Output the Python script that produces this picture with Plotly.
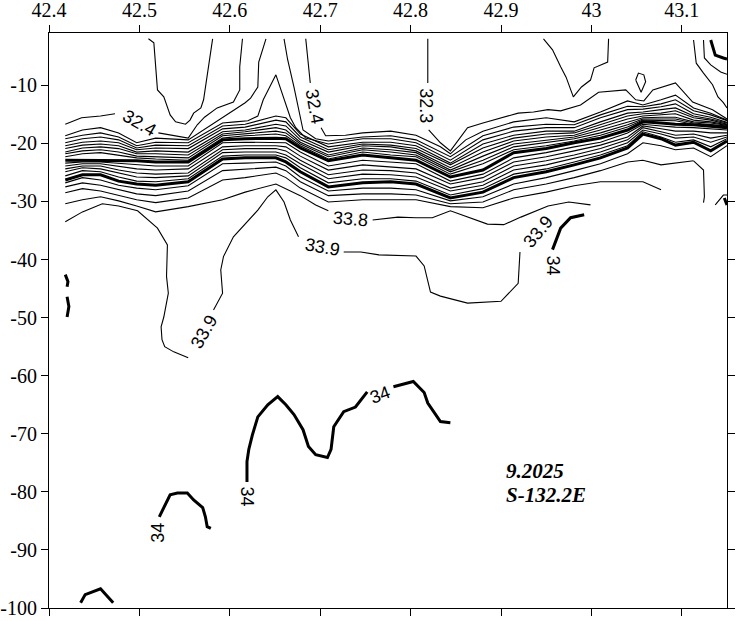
import plotly.graph_objects as go

# station latitudes shared by the dense halocline lines
station_lat = [42.418, 42.437, 42.457, 42.477, 42.497, 42.518, 42.554, 42.592, 42.617, 42.651,
               42.662, 42.678, 42.709, 42.747, 42.778, 42.806, 42.844, 42.880, 42.914, 42.950,
               42.981, 43.010, 43.040, 43.057, 43.077, 43.093, 43.113, 43.132, 43.150]

# depths of thin isohalines above the first thick line
u3 = [-19.9, -19.2, -18.9, -19.4, -20.8, -20.3, -20.4, -17.0, -16.7, -15.3, -15.6, -18.4, -20.6, -19.8, -19.8,
      -20.4, -23.4, -20.1, -18.6, -17.9, -17.9, -16.3, -14.8, -14.6, -14.2, -13.9, -15.3, -15.8, -16.5]
u4 = [-20.4, -19.8, -19.6, -19.9, -21.1, -20.8, -20.9, -17.5, -17.2, -16.0, -16.3, -18.9, -21.1, -20.1, -20.3,
      -20.9, -23.7, -20.8, -19.1, -18.4, -18.2, -16.8, -15.3, -14.9, -14.8, -14.4, -15.6, -16.0, -16.7]
u5 = [-20.9, -20.3, -20.1, -20.4, -21.5, -21.3, -21.5, -18.0, -17.7, -16.7, -17.0, -19.4, -21.5, -20.4, -20.6,
      -21.3, -24.2, -21.5, -19.6, -18.9, -18.6, -17.2, -15.8, -15.3, -15.1, -14.9, -16.0, -16.3, -16.8]
u6 = [-21.5, -20.8, -20.6, -20.9, -21.8, -21.8, -22.0, -18.4, -18.0, -17.3, -17.7, -19.8, -22.0, -20.8, -21.1,
      -21.6, -24.6, -22.2, -20.1, -19.4, -18.9, -17.7, -16.3, -15.6, -15.5, -15.5, -16.3, -16.5, -16.9]
u7 = [-21.8, -21.3, -21.1, -21.5, -22.2, -22.3, -22.5, -18.7, -18.4, -17.9, -18.2, -20.1, -22.3, -21.1, -21.5,
      -22.0, -24.9, -22.9, -20.6, -19.9, -19.2, -18.2, -16.8, -15.8, -15.8, -15.8, -16.5, -16.7, -17.0]
u8 = [-22.3, -21.8, -21.6, -22.0, -22.5, -22.7, -22.9, -19.1, -18.7, -18.4, -18.7, -20.4, -22.7, -21.5, -22.0,
      -22.3, -25.3, -23.5, -21.1, -20.4, -19.6, -18.6, -17.2, -16.0, -16.1, -16.1, -16.7, -16.8, -17.1]
# thick lines
t1 = [-22.9, -22.9, -22.9, -22.9, -23.0, -23.2, -23.2, -19.4, -19.2, -19.1, -19.2, -20.8, -23.0, -22.0, -22.5,
      -22.9, -25.8, -24.6, -21.6, -20.9, -19.9, -19.1, -17.7, -16.3, -16.5, -16.7, -16.8, -17.0, -17.3]
t2 = [-26.3, -25.4, -25.4, -26.5, -27.0, -27.2, -26.6, -22.7, -22.5, -22.5, -23.2, -24.9, -27.5, -26.8, -26.6,
      -27.0, -29.4, -28.4, -25.9, -24.9, -23.7, -22.5, -20.8, -18.4, -19.2, -20.3, -19.8, -21.3, -19.6]
# thin lines between the thick lines
m1 = [-23.4, -23.2, -23.2, -23.4, -23.7, -23.9, -23.9, -19.9, -19.8, -19.8, -19.9, -21.5, -23.9, -22.9, -23.2,
      -23.5, -26.5, -25.3, -22.5, -21.6, -20.6, -19.8, -18.2, -16.7, -17.0, -17.2, -17.3, -17.5, -17.7]
m2 = [-23.9, -23.5, -23.5, -23.9, -24.4, -24.6, -24.4, -20.6, -20.4, -20.4, -20.6, -22.2, -24.6, -23.7, -24.1,
      -24.4, -27.0, -25.9, -23.2, -22.3, -21.3, -20.3, -18.9, -17.0, -17.5, -17.9, -17.9, -18.2, -18.2]
m3 = [-24.4, -23.9, -23.9, -24.6, -25.1, -25.3, -25.1, -21.1, -20.9, -20.9, -21.3, -22.9, -25.4, -24.6, -24.7,
      -25.1, -27.7, -26.6, -23.9, -23.0, -22.0, -20.9, -19.4, -17.3, -18.0, -18.6, -18.4, -19.1, -18.6]
m4 = [-24.9, -24.2, -24.4, -25.1, -25.8, -25.9, -25.6, -21.6, -21.5, -21.5, -22.0, -23.5, -26.1, -25.3, -25.4,
      -25.8, -28.2, -27.2, -24.6, -23.7, -22.5, -21.5, -19.9, -17.7, -18.4, -19.1, -18.9, -19.8, -18.9]
m5 = [-25.6, -24.7, -24.9, -25.8, -26.5, -26.6, -26.1, -22.2, -22.0, -22.0, -22.5, -24.2, -26.8, -26.1, -26.1,
      -26.5, -28.9, -27.8, -25.3, -24.4, -23.2, -22.0, -20.4, -18.0, -18.9, -19.8, -19.4, -20.6, -19.2]
# thin lines below the second thick line
l1 = [-26.8, -25.9, -26.3, -27.2, -27.7, -28.0, -27.3, -23.5, -23.4, -23.2, -23.9, -25.8, -28.2, -27.7, -27.7,
      -28.0, -29.9, -29.2, -27.0, -25.9, -24.7, -23.5, -21.8, -19.9, -20.4, -21.1, -20.8, -22.3, -20.4]
l2 = [-27.5, -26.8, -27.2, -28.0, -28.7, -29.0, -28.2, -24.7, -24.4, -24.1, -24.7, -26.6, -29.0, -28.7, -28.7,
      -28.9, -30.4, -30.1, -28.0, -27.0, -25.9, -24.7, -23.2, -22.9, -23.7, -23.4, -23.0, None, None]
l3 = [-28.5, -27.8, -28.2, -29.0, -29.7, -30.2, -29.4, -26.3, -25.9, -25.1, -25.9, -27.7, -30.1, -29.7, -29.7,
      -29.7, -30.9, -31.1, -29.4, -28.4, -27.3, -26.6, -26.6, -26.6, -28.0, None, None, None, None]
l2_tail_lat = [43.113, 43.124, 43.125, 43.124]
l2_tail_dep = [-23.0, -24.6, -29.2, -30.2]

# plume lines reaching the surface
u1_left_lat = [42.418, 42.437, 42.457, 42.477, 42.497, 42.518, 42.554, 42.592, 42.604, 42.617, 42.623, 42.631, 42.632, 42.640]
u1_left_dep = [-18.7, -17.7, -17.3, -18.2, -19.9, -19.1, -19.4, -15.5, -14.2, -13.0, -12.2, -10.3, -6.0, -2.0]
u1_right_lat = [42.660, 42.664, 42.671, 42.676, 42.681, 42.695, 42.709, 42.747, 42.778, 42.806, 42.844, 42.880,
                42.914, 42.950, 42.981, 43.010, 43.040, 43.057, 43.077, 43.093, 43.113, 43.132, 43.150]
u1_right_dep = [-2.0, -5.6, -10.3, -14.2, -17.7, -19.2, -19.6, -18.9, -18.7, -19.4, -22.3, -18.7,
                -17.2, -16.7, -16.8, -15.1, -13.6, -13.7, -13.2, -12.5, -14.4, -15.1, -16.1]
u2_lat = [42.418, 42.437, 42.457, 42.477, 42.497, 42.518, 42.554, 42.592, 42.606, 42.620, 42.631, 42.637, 42.651,
          42.656, 42.662, 42.667, 42.673, 42.684, 42.709, 42.747, 42.778, 42.806, 42.844, 42.880, 42.914, 42.950,
          42.981, 43.010, 43.040, 43.057, 43.077, 43.093, 43.113, 43.132, 43.150]
u2_dep = [-19.2, -18.6, -18.2, -18.9, -20.4, -19.8, -19.9, -16.5, -16.3, -16.1, -15.3, -12.5, -8.2,
          -10.5, -13.0, -15.6, -17.3, -19.1, -20.1, -19.2, -19.2, -19.9, -22.9, -19.4, -17.9, -17.3,
          -17.3, -15.6, -14.2, -14.1, -13.7, -13.2, -14.9, -15.5, -16.4]

# 32.4 isohaline, left and right parts
s324a_lat = [42.418, 42.436, 42.457, 42.473, None, 42.521, 42.540, 42.554, 42.564, 42.572, 42.586, 42.604, 42.611, 42.611, 42.614]
s324a_dep = [-16.7, -15.6, -15.3, -14.9, None, -18.2, -18.7, -19.1, -16.8, -15.5, -13.9, -12.9, -10.8, -6.8, -2.0]
s324b_lat = [42.684, 42.686, 42.689, None, 42.701, 42.706, 42.728, 42.747, 42.778, 42.806, 42.833, 42.844, 42.861,
             42.880, 42.914, 42.950, 42.981, 43.010, 43.040, 43.057, 43.077, 43.093, 43.113, 43.132, 43.150]
s324b_dep = [-2.0, -5.6, -9.6, None, -17.3, -18.7, -18.6, -18.2, -17.9, -18.6, -20.6, -21.8, -19.4,
             -17.9, -16.3, -15.6, -16.3, -14.6, -12.7, -13.4, -12.5, -11.7, -13.9, -14.8, -16.0]
# 32.3 isohaline and the fresher pockets near the surface
s323_lat = [42.819, 42.819, None, 42.820, 42.833, 42.844, 42.853, 42.863, 42.880, 42.900, 42.919, 42.936, 42.952,
            42.966, 42.988, 43.008, 43.038, 43.049, 43.058, 43.068, 43.093, 43.112, 43.134, 43.150]
s323_dep = [-2.0, -9.6, None, -17.7, -19.9, -21.3, -19.4, -17.3, -16.5, -15.6, -14.8, -14.6, -14.2,
            -14.4, -13.4, -11.2, -10.8, -12.5, -12.7, -10.8, -9.6, -12.9, -14.2, -15.8]
pocket_a_lat = [42.510, 42.516, 42.520, 42.527, 42.534, 42.540, 42.551, 42.556, 42.560, 42.568, 42.571, 42.576, 42.581]
pocket_a_dep = [-2.0, -2.7, -10.8, -12.0, -15.1, -16.3, -16.7, -16.0, -14.8, -13.9, -12.5, -6.8, -2.0]
pocket_f_lat = [42.947, 42.957, 42.966, 42.972, 42.980, 42.989, 42.999, 43.003, 43.018, 43.019]
pocket_f_dep = [-2.0, -3.9, -6.8, -8.6, -12.0, -10.3, -9.1, -7.0, -6.0, -2.0]
loop_lat = [43.049, 43.052, 43.058, 43.060, 43.055, 43.051, 43.049]
loop_dep = [-9.1, -7.9, -8.2, -9.4, -11.2, -9.9, -9.1]
g_lat = [43.113, 43.116, 43.124, 43.130, 43.134, 43.140, 43.146, 43.150]
g_dep = [-2.2, -6.2, -7.9, -9.1, -9.9, -12.0, -13.0, -13.9]
h_lat = [43.124, 43.125, 43.132, 43.143, 43.150]
h_dep = [-2.2, -5.3, -6.5, -7.7, -8.1]

# 33.8 and 33.9 isohalines
s338_lat = [42.418, 42.437, 42.457, 42.477, 42.497, 42.518, 42.554, 42.592, 42.617, 42.651, 42.678, 42.695, 42.709,
            None, 42.758, 42.786, 42.806, 42.824, 42.844, 42.863, 42.885, 42.903, 42.922, 42.952, 42.975, 42.999]
s338_dep = [-30.4, -29.7, -29.2, -29.9, -30.8, -31.8, -30.9, -29.7, -28.4, -27.0, -29.0, -30.6, -31.6,
            None, -33.2, -32.7, -32.8, -32.8, -31.6, -32.7, -33.9, -34.0, -32.7, -30.8, -30.1, -30.6]
s339_lat = [42.418, 42.437, 42.459, 42.477, 42.498, 42.520, 42.531, 42.530, 42.532, 42.527, 42.524, 42.525, 42.528,
            42.538, 42.554, None, 42.582, 42.592, 42.590, 42.593, 42.604, 42.631, 42.642, 42.651, 42.660, 42.667,
            42.676, None, 42.726, 42.745, 42.765, 42.806, 42.815, 42.822, 42.833, 42.863, 42.900, 42.907, 42.919, 42.921]
s339_dep = [-33.5, -31.8, -30.4, -30.8, -31.6, -34.6, -37.5, -42.9, -45.8, -49.9, -51.6, -53.8, -55.0,
            -55.9, -56.9, None, -48.7, -45.8, -41.8, -39.5, -36.1, -31.5, -29.2, -28.0, -30.1, -33.2,
            -36.1, None, -38.7, -38.7, -39.2, -39.4, -41.1, -45.6, -46.3, -47.5, -47.2, -46.1, -44.1, -38.7]
s339_edge_lat = [43.137, 43.146, 43.150]
s339_edge_dep = [-30.6, -28.9, -28.9]

# 34 isohaline pieces (thick)
k34 = [
    ([42.435, 42.440, 42.457, 42.471], [-99.1, -97.7, -96.7, -99.1]),
    ([42.522, 42.527, 42.534, 42.542, 42.553, 42.560, 42.570, 42.573, 42.575, 42.579],
     [-84.3, -82.6, -80.5, -80.2, -80.2, -81.4, -82.7, -84.3, -86.0, -86.3]),
    ([42.619, 42.619, 42.621, 42.625, 42.631, 42.642, 42.653, 42.662, 42.671, 42.681, 42.687, 42.695, 42.708,
      42.712, 42.715, 42.726, 42.739, 42.748, 42.752, None, 42.781, 42.803, 42.815, 42.819, 42.833, 42.844],
     [-78.3, -74.8, -72.7, -70.2, -67.1, -65.0, -63.6, -65.0, -66.7, -69.3, -72.2, -73.6, -74.1,
      -72.7, -68.8, -66.2, -65.4, -63.6, -62.8, None, -61.9, -61.0, -62.9, -64.7, -67.9, -68.1]),
    ([42.992, 42.977, 42.966, 42.961, 42.957], [-32.3, -32.8, -34.6, -36.6, -38.3]),
    ([42.418, 42.421, 42.420], [-42.6, -43.8, -44.7]),
    ([42.420, 42.422, 42.420], [-46.4, -48.1, -49.9]),
    ([43.132, 43.135, 43.137, 43.146, 43.150], [-2.2, -3.9, -4.8, -5.3, -5.5]),
    ([43.147, 43.150], [-29.4, -30.6]),
]

# contour labels
label_text = ["32.4", "32.4", "32.3", "33.8", "33.9", "33.9", "33.9", "34", "34", "34", "34"]
label_lat = [42.500, 42.694, 42.817, 42.734, 42.702, 42.571, 42.941, 42.958, 42.766, 42.618, 42.521]
label_dep = [-16.5, -13.7, -13.6, -33.0, -37.8, -52.4, -35.3, -41.1, -63.3, -80.8, -87.0]
label_rot = [30, 80, 90, 5, 10, -60, -50, 90, -20, 90, -90]

x_ticks = [42.4, 42.5, 42.6, 42.7, 42.8, 42.9, 43.0, 43.1]
x_labels = ["42.4", "42.5", "42.6", "42.7", "42.8", "42.9", "43", "43.1"]
y_ticks = [-10, -20, -30, -40, -50, -60, -70, -80, -90, -100]
y_labels = ["-10", "-20", "-30", "-40", "-50", "-60", "-70", "-80", "-90", "-100"]

SERIF = "Liberation Serif"
SANS = "Liberation Sans"

fig = go.Figure()


def add_line(x, y, width=1.1):
    fig.add_trace(go.Scatter(x=x, y=y, mode="lines", line=dict(color="black", width=width),
                             hoverinfo="skip", showlegend=False))


for ys in [u3, u4, u5, u6, u7, u8, m1, m2, m3, m4, m5, l1, l2, l3]:
    add_line(station_lat, ys)
for ys in [t1, t2]:
    add_line(station_lat, ys, 3)

for x, y in [(l2_tail_lat, l2_tail_dep), (u1_left_lat, u1_left_dep), (u1_right_lat, u1_right_dep),
             (u2_lat, u2_dep), (s324a_lat, s324a_dep), (s324b_lat, s324b_dep), (s323_lat, s323_dep),
             (pocket_a_lat, pocket_a_dep), (pocket_f_lat, pocket_f_dep), (loop_lat, loop_dep),
             (g_lat, g_dep), (h_lat, h_dep), (s338_lat, s338_dep), (s339_lat, s339_dep),
             (s339_edge_lat, s339_edge_dep)]:
    add_line(x, y)

for x, y in k34:
    add_line(x, y, 3)

for t, x, y, a in zip(label_text, label_lat, label_dep, label_rot):
    fig.add_annotation(x=x, y=y, text=t, textangle=a, showarrow=False,
                       font=dict(family=SANS, size=18, color="black"))

fig.add_annotation(x=42.903, y=-76.4, text="<b><i>9.2025</i></b>", xanchor="left", showarrow=False,
                   font=dict(family=SERIF, size=21, color="black"))
fig.add_annotation(x=42.903, y=-80.5, text="<b><i>S-132.2E</i></b>", xanchor="left", showarrow=False,
                   font=dict(family=SERIF, size=21, color="black"))

axis_style = dict(showgrid=False, zeroline=False, showline=True, linecolor="black", linewidth=1,
                  mirror="ticks", ticks="outside", ticklen=7, tickcolor="black", automargin=False,
                  tickfont=dict(family=SERIF, size=20, color="black"))

fig.update_xaxes(range=[42.4, 43.15], side="top", tickvals=x_ticks, ticktext=x_labels, **axis_style)
fig.update_yaxes(range=[-100, -1], tickvals=y_ticks, ticktext=y_labels, **axis_style)

fig.update_layout(width=736, height=621, margin=dict(l=49, r=9, t=33, b=13, autoexpand=False),
                  font=dict(family=SERIF, color="black"),
                  plot_bgcolor="white", paper_bgcolor="white")

# the page body has a default 8px margin; drop it so the figure fills the window
fig.write_html("out.html", config={"displayModeBar": False},
               post_script="document.body.style.margin = '0';")
